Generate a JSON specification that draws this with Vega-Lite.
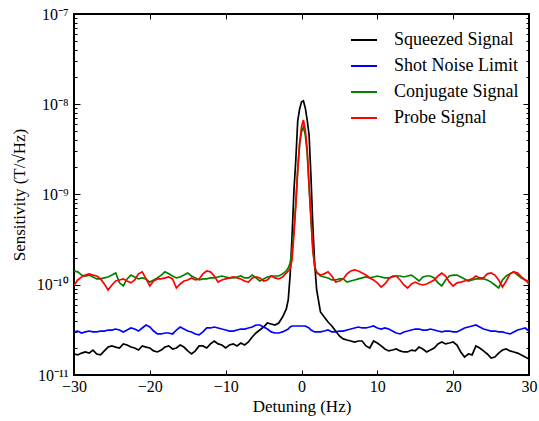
{
  "$schema": "https://vega.github.io/schema/vega-lite/v6.json",
  "width": 455,
  "height": 361,
  "autosize": {"type": "none"},
  "padding": {"left": 74, "top": 14, "right": 10, "bottom": 46},
  "background": "white",
  "config": {
    "view": {"stroke": "black", "strokeWidth": 2},
    "font": "Liberation Serif, Times New Roman, serif",
    "axis": {
      "grid": false, "domain": false, "tickColor": "black", "tickWidth": 1,
      "labelColor": "black", "labelFont": "Liberation Serif, Times New Roman, serif", "labelFontSize": 16,
      "titleFont": "Liberation Serif, Times New Roman, serif", "titleFontSize": 17, "titleFontWeight": "normal",
      "titleColor": "black", "labelFlush": false, "labelOverlap": false
    },
    "legend": {
      "orient": "none", "legendX": 276, "legendY": 12, "symbolType": "stroke",
      "symbolSize": 676, "symbolStrokeWidth": 2, "labelFont": "Liberation Serif, Times New Roman, serif",
      "labelFontSize": 18, "labelColor": "black", "labelOffset": 16, "rowPadding": 3, "padding": 0
    }
  },
  "data": {"values": [
    {"x": -30, "S": 1.71e-11, "B": 3.00e-11, "C": 1.42e-10, "P": 9.9e-11},
    {"x": -29.5, "S": 1.67e-11, "B": 3.07e-11, "C": 1.39e-10, "P": 1.13e-10},
    {"x": -29, "S": 1.75e-11, "B": 2.92e-11, "C": 1.28e-10, "P": 1.22e-10},
    {"x": -28.5, "S": 1.80e-11, "B": 3.00e-11, "C": 1.25e-10, "P": 1.28e-10},
    {"x": -28, "S": 1.75e-11, "B": 3.07e-11, "C": 1.28e-10, "P": 1.32e-10},
    {"x": -27.5, "S": 1.89e-11, "B": 3.00e-11, "C": 1.22e-10, "P": 1.28e-10},
    {"x": -27, "S": 1.71e-11, "B": 3.00e-11, "C": 1.16e-10, "P": 1.25e-10},
    {"x": -26.5, "S": 1.67e-11, "B": 3.07e-11, "C": 1.16e-10, "P": 1.16e-10},
    {"x": -26, "S": 1.85e-11, "B": 3.07e-11, "C": 1.19e-10, "P": 1.02e-10},
    {"x": -25.5, "S": 2.04e-11, "B": 3.15e-11, "C": 1.22e-10, "P": 8.75e-11},
    {"x": -25, "S": 2.10e-11, "B": 3.15e-11, "C": 1.28e-10, "P": 9.94e-11},
    {"x": -24.5, "S": 2.04e-11, "B": 3.23e-11, "C": 1.35e-10, "P": 1.10e-10},
    {"x": -24, "S": 1.99e-11, "B": 3.15e-11, "C": 1.05e-10, "P": 1.13e-10},
    {"x": -23.5, "S": 2.21e-11, "B": 3.00e-11, "C": 9.69e-11, "P": 1.16e-10},
    {"x": -23, "S": 2.15e-11, "B": 3.15e-11, "C": 1.16e-10, "P": 1.10e-10},
    {"x": -22.5, "S": 2.04e-11, "B": 3.32e-11, "C": 1.28e-10, "P": 1.05e-10},
    {"x": -22, "S": 1.99e-11, "B": 3.23e-11, "C": 1.22e-10, "P": 1.13e-10},
    {"x": -21.5, "S": 1.89e-11, "B": 3.07e-11, "C": 1.16e-10, "P": 1.32e-10},
    {"x": -21, "S": 2.10e-11, "B": 3.32e-11, "C": 1.19e-10, "P": 1.39e-10},
    {"x": -20.5, "S": 2.04e-11, "B": 3.58e-11, "C": 1.16e-10, "P": 1.16e-10},
    {"x": -20, "S": 1.99e-11, "B": 3.40e-11, "C": 1.07e-10, "P": 9.69e-11},
    {"x": -19.5, "S": 1.85e-11, "B": 3.07e-11, "C": 1.13e-10, "P": 1.10e-10},
    {"x": -19, "S": 1.80e-11, "B": 2.85e-11, "C": 1.19e-10, "P": 1.16e-10},
    {"x": -18.5, "S": 1.89e-11, "B": 2.85e-11, "C": 1.28e-10, "P": 1.16e-10},
    {"x": -18, "S": 2.04e-11, "B": 2.92e-11, "C": 1.39e-10, "P": 1.19e-10},
    {"x": -17.5, "S": 2.10e-11, "B": 2.92e-11, "C": 1.32e-10, "P": 1.22e-10},
    {"x": -17, "S": 1.94e-11, "B": 2.85e-11, "C": 1.25e-10, "P": 1.16e-10},
    {"x": -16.5, "S": 1.99e-11, "B": 3.15e-11, "C": 1.19e-10, "P": 9.20e-11},
    {"x": -16, "S": 2.15e-11, "B": 3.40e-11, "C": 1.22e-10, "P": 1.02e-10},
    {"x": -15.5, "S": 2.04e-11, "B": 3.23e-11, "C": 1.28e-10, "P": 1.10e-10},
    {"x": -15, "S": 1.85e-11, "B": 3.07e-11, "C": 1.35e-10, "P": 1.13e-10},
    {"x": -14.5, "S": 1.71e-11, "B": 3.00e-11, "C": 1.25e-10, "P": 1.19e-10},
    {"x": -14, "S": 1.85e-11, "B": 2.85e-11, "C": 1.19e-10, "P": 1.13e-10},
    {"x": -13.5, "S": 2.10e-11, "B": 2.78e-11, "C": 1.13e-10, "P": 1.16e-10},
    {"x": -13, "S": 2.10e-11, "B": 3.00e-11, "C": 1.16e-10, "P": 1.32e-10},
    {"x": -12.5, "S": 1.99e-11, "B": 3.32e-11, "C": 1.16e-10, "P": 1.42e-10},
    {"x": -12, "S": 2.21e-11, "B": 3.32e-11, "C": 1.19e-10, "P": 1.39e-10},
    {"x": -11.5, "S": 2.38e-11, "B": 3.40e-11, "C": 1.19e-10, "P": 1.25e-10},
    {"x": -11, "S": 2.21e-11, "B": 3.32e-11, "C": 1.22e-10, "P": 1.07e-10},
    {"x": -10.5, "S": 2.15e-11, "B": 3.23e-11, "C": 1.25e-10, "P": 1.13e-10},
    {"x": -10, "S": 1.99e-11, "B": 3.15e-11, "C": 1.22e-10, "P": 1.16e-10},
    {"x": -9.5, "S": 2.15e-11, "B": 3.07e-11, "C": 1.19e-10, "P": 1.19e-10},
    {"x": -9, "S": 2.21e-11, "B": 3.07e-11, "C": 1.19e-10, "P": 1.22e-10},
    {"x": -8.5, "S": 2.10e-11, "B": 3.15e-11, "C": 1.22e-10, "P": 1.19e-10},
    {"x": -8, "S": 2.26e-11, "B": 3.23e-11, "C": 1.25e-10, "P": 1.16e-10},
    {"x": -7.5, "S": 2.15e-11, "B": 3.23e-11, "C": 1.19e-10, "P": 1.10e-10},
    {"x": -7, "S": 2.32e-11, "B": 3.32e-11, "C": 1.19e-10, "P": 1.07e-10},
    {"x": -6.5, "S": 2.64e-11, "B": 3.40e-11, "C": 1.28e-10, "P": 1.19e-10},
    {"x": -6, "S": 2.92e-11, "B": 3.58e-11, "C": 1.19e-10, "P": 1.22e-10},
    {"x": -5.5, "S": 3.15e-11, "B": 3.58e-11, "C": 1.10e-10, "P": 1.19e-10},
    {"x": -5, "S": 3.40e-11, "B": 3.40e-11, "C": 1.16e-10, "P": 1.10e-10},
    {"x": -4.5, "S": 3.77e-11, "B": 3.23e-11, "C": 1.22e-10, "P": 1.13e-10},
    {"x": -4, "S": 3.67e-11, "B": 3.00e-11, "C": 1.25e-10, "P": 1.25e-10},
    {"x": -3.5, "S": 3.58e-11, "B": 2.92e-11, "C": 1.25e-10, "P": 1.19e-10},
    {"x": -3, "S": 3.77e-11, "B": 2.92e-11, "C": 1.25e-10, "P": 1.16e-10},
    {"x": -2.5, "S": 4.39e-11, "B": 3.00e-11, "C": 1.32e-10, "P": 1.22e-10},
    {"x": -2, "S": 5.39e-11, "B": 3.15e-11, "C": 1.42e-10, "P": 1.35e-10},
    {"x": -1.75, "S": 6.78e-11, "B": 3.23e-11, "C": 1.53e-10, "P": 1.42e-10},
    {"x": -1.5, "S": 1.28e-10, "B": 3.40e-11, "C": 1.74e-10, "P": 1.50e-10},
    {"x": -1.25, "S": 3.38e-10, "B": 3.49e-11, "C": 2.43e-10, "P": 1.88e-10},
    {"x": -1, "S": 1.09e-9, "B": 3.49e-11, "C": 4.04e-10, "P": 3.56e-10},
    {"x": -0.75, "S": 2.41e-9, "B": 3.49e-11, "C": 8.05e-10, "P": 7.65e-10},
    {"x": -0.5, "S": 6.52e-9, "B": 3.49e-11, "C": 1.87e-9, "P": 1.87e-9},
    {"x": -0.25, "S": 8.86e-9, "B": 3.49e-11, "C": 3.53e-9, "P": 3.72e-9},
    {"x": 0, "S": 1.06e-8, "B": 3.49e-11, "C": 4.93e-9, "P": 5.60e-9},
    {"x": 0.25, "S": 1.09e-8, "B": 3.49e-11, "C": 5.60e-9, "P": 6.69e-9},
    {"x": 0.5, "S": 9.09e-9, "B": 3.49e-11, "C": 4.56e-9, "P": 5.18e-9},
    {"x": 0.75, "S": 6.69e-9, "B": 3.40e-11, "C": 2.88e-9, "P": 3.19e-9},
    {"x": 1, "S": 4.56e-9, "B": 3.32e-11, "C": 1.21e-9, "P": 1.27e-9},
    {"x": 1.25, "S": 1.56e-9, "B": 3.15e-11, "C": 5.22e-10, "P": 5.63e-10},
    {"x": 1.5, "S": 4.36e-10, "B": 3.07e-11, "C": 2.43e-10, "P": 2.43e-10},
    {"x": 1.75, "S": 1.66e-10, "B": 3.00e-11, "C": 1.57e-10, "P": 1.57e-10},
    {"x": 2, "S": 8.75e-11, "B": 3.00e-11, "C": 1.39e-10, "P": 1.35e-10},
    {"x": 2.5, "S": 4.99e-11, "B": 3.00e-11, "C": 1.25e-10, "P": 1.28e-10},
    {"x": 3, "S": 4.39e-11, "B": 3.07e-11, "C": 1.22e-10, "P": 1.32e-10},
    {"x": 3.5, "S": 3.87e-11, "B": 3.15e-11, "C": 1.19e-10, "P": 1.39e-10},
    {"x": 4, "S": 3.49e-11, "B": 3.00e-11, "C": 1.13e-10, "P": 1.25e-10},
    {"x": 4.5, "S": 3.07e-11, "B": 3.00e-11, "C": 1.13e-10, "P": 1.07e-10},
    {"x": 5, "S": 2.71e-11, "B": 3.07e-11, "C": 1.16e-10, "P": 1.10e-10},
    {"x": 5.5, "S": 2.51e-11, "B": 3.07e-11, "C": 1.16e-10, "P": 1.16e-10},
    {"x": 6, "S": 2.44e-11, "B": 3.15e-11, "C": 1.07e-10, "P": 1.32e-10},
    {"x": 6.5, "S": 2.38e-11, "B": 3.23e-11, "C": 1.10e-10, "P": 1.42e-10},
    {"x": 7, "S": 2.32e-11, "B": 3.32e-11, "C": 1.13e-10, "P": 1.46e-10},
    {"x": 7.5, "S": 2.38e-11, "B": 3.40e-11, "C": 1.16e-10, "P": 1.42e-10},
    {"x": 8, "S": 2.38e-11, "B": 3.32e-11, "C": 1.19e-10, "P": 1.35e-10},
    {"x": 8.5, "S": 2.10e-11, "B": 3.32e-11, "C": 1.22e-10, "P": 1.28e-10},
    {"x": 9, "S": 1.99e-11, "B": 3.40e-11, "C": 1.19e-10, "P": 1.19e-10},
    {"x": 9.5, "S": 2.38e-11, "B": 3.49e-11, "C": 1.22e-10, "P": 1.13e-10},
    {"x": 10, "S": 2.26e-11, "B": 3.32e-11, "C": 1.25e-10, "P": 1.05e-10},
    {"x": 10.5, "S": 2.10e-11, "B": 3.23e-11, "C": 1.22e-10, "P": 9.44e-11},
    {"x": 11, "S": 1.94e-11, "B": 3.32e-11, "C": 1.19e-10, "P": 1.02e-10},
    {"x": 11.5, "S": 1.85e-11, "B": 3.23e-11, "C": 1.19e-10, "P": 1.16e-10},
    {"x": 12, "S": 1.89e-11, "B": 3.07e-11, "C": 1.22e-10, "P": 1.25e-10},
    {"x": 12.5, "S": 1.94e-11, "B": 2.92e-11, "C": 1.25e-10, "P": 1.25e-10},
    {"x": 13, "S": 1.85e-11, "B": 2.85e-11, "C": 1.25e-10, "P": 1.13e-10},
    {"x": 13.5, "S": 1.80e-11, "B": 3.00e-11, "C": 1.22e-10, "P": 9.94e-11},
    {"x": 14, "S": 1.80e-11, "B": 3.07e-11, "C": 1.25e-10, "P": 9.20e-11},
    {"x": 14.5, "S": 1.89e-11, "B": 3.15e-11, "C": 1.28e-10, "P": 1.02e-10},
    {"x": 15, "S": 1.85e-11, "B": 3.23e-11, "C": 1.19e-10, "P": 1.07e-10},
    {"x": 15.5, "S": 2.04e-11, "B": 3.23e-11, "C": 1.10e-10, "P": 1.02e-10},
    {"x": 16, "S": 1.94e-11, "B": 3.15e-11, "C": 1.22e-10, "P": 9.94e-11},
    {"x": 16.5, "S": 1.80e-11, "B": 3.15e-11, "C": 1.25e-10, "P": 1.02e-10},
    {"x": 17, "S": 1.89e-11, "B": 3.23e-11, "C": 1.25e-10, "P": 1.07e-10},
    {"x": 17.5, "S": 1.99e-11, "B": 3.15e-11, "C": 1.19e-10, "P": 1.13e-10},
    {"x": 18, "S": 2.21e-11, "B": 3.07e-11, "C": 1.05e-10, "P": 1.25e-10},
    {"x": 18.5, "S": 2.32e-11, "B": 3.00e-11, "C": 9.69e-11, "P": 1.35e-10},
    {"x": 19, "S": 2.21e-11, "B": 3.07e-11, "C": 1.13e-10, "P": 1.25e-10},
    {"x": 19.5, "S": 2.26e-11, "B": 3.07e-11, "C": 1.25e-10, "P": 1.07e-10},
    {"x": 20, "S": 2.32e-11, "B": 3.00e-11, "C": 1.28e-10, "P": 9.69e-11},
    {"x": 20.5, "S": 2.15e-11, "B": 3.00e-11, "C": 1.28e-10, "P": 1.05e-10},
    {"x": 21, "S": 1.80e-11, "B": 3.15e-11, "C": 1.22e-10, "P": 1.07e-10},
    {"x": 21.5, "S": 1.58e-11, "B": 3.32e-11, "C": 1.16e-10, "P": 1.10e-10},
    {"x": 22, "S": 1.71e-11, "B": 3.40e-11, "C": 1.10e-10, "P": 1.13e-10},
    {"x": 22.5, "S": 1.67e-11, "B": 3.49e-11, "C": 1.13e-10, "P": 1.16e-10},
    {"x": 23, "S": 2.10e-11, "B": 3.58e-11, "C": 1.16e-10, "P": 1.25e-10},
    {"x": 23.5, "S": 1.99e-11, "B": 3.40e-11, "C": 1.16e-10, "P": 1.19e-10},
    {"x": 24, "S": 1.85e-11, "B": 3.23e-11, "C": 1.16e-10, "P": 1.19e-10},
    {"x": 24.5, "S": 1.71e-11, "B": 3.15e-11, "C": 1.13e-10, "P": 1.32e-10},
    {"x": 25, "S": 1.54e-11, "B": 3.07e-11, "C": 1.07e-10, "P": 1.35e-10},
    {"x": 25.5, "S": 1.58e-11, "B": 3.07e-11, "C": 9.94e-11, "P": 1.28e-10},
    {"x": 26, "S": 1.75e-11, "B": 3.00e-11, "C": 9.20e-11, "P": 1.13e-10},
    {"x": 26.5, "S": 1.89e-11, "B": 3.00e-11, "C": 1.13e-10, "P": 9.44e-11},
    {"x": 27, "S": 1.94e-11, "B": 2.92e-11, "C": 1.25e-10, "P": 1.10e-10},
    {"x": 27.5, "S": 1.85e-11, "B": 2.85e-11, "C": 1.32e-10, "P": 1.32e-10},
    {"x": 28, "S": 1.80e-11, "B": 3.00e-11, "C": 1.39e-10, "P": 1.39e-10},
    {"x": 28.5, "S": 1.75e-11, "B": 3.15e-11, "C": 1.28e-10, "P": 1.35e-10},
    {"x": 29, "S": 1.67e-11, "B": 3.23e-11, "C": 1.19e-10, "P": 1.22e-10},
    {"x": 29.5, "S": 1.58e-11, "B": 3.32e-11, "C": 1.13e-10, "P": 1.13e-10},
    {"x": 30, "S": 1.50e-11, "B": 3.07e-11, "C": 1.10e-10, "P": 1.02e-10}
  ]},
  "transform": [{"fold": ["S", "B", "C", "P"], "as": ["series", "value"]}],
  "layer": [
    {
      "mark": {"type": "line", "strokeWidth": 1.7, "clip": true},
      "encoding": {
        "x": {"field": "x", "type": "quantitative", "scale": {"domain": [-30, 30], "nice": false, "zero": false},
              "axis": {"orient": "bottom", "values": [-30, -20, -10, 0, 10, 20, 30], "title": "Detuning (Hz)", "tickSize": -5, "labelPadding": 8, "titlePadding": 4}},
        "y": {"field": "value", "type": "quantitative", "scale": {"type": "log", "domain": [1e-11, 1e-7], "nice": false},
              "axis": {"orient": "left", "values": [1e-11, 1e-10, 1e-9, 1e-8, 1e-7], "title": "Sensitivity (T/√Hz)", "tickSize": -6, "labelPadding": 12, "titlePadding": 8,
                       "labelExpr": "'10' + {'-11': '⁻¹¹', '-10': '⁻¹⁰', '-9': '⁻⁹', '-8': '⁻⁸', '-7': '⁻⁷'}[round(log(datum.value) / LN10)]"}},
        "color": {"field": "series", "type": "nominal", "sort": null,
                  "scale": {"domain": ["S", "B", "C", "P"], "range": ["#000000", "#0000ff", "#008000", "#ff0000"]},
                  "legend": {"title": null, "labelExpr": "datum.label == 'S' ? 'Squeezed Signal' : datum.label == 'B' ? 'Shot Noise Limit' : datum.label == 'C' ? 'Conjugate Signal' : 'Probe Signal'"}}
      }
    },
    {
      "mark": {"type": "line", "strokeOpacity": 0},
      "encoding": {
        "x": {"field": "x", "type": "quantitative", "axis": {"orient": "top", "values": [-30, -20, -10, 0, 10, 20, 30], "labels": false, "title": null, "tickSize": -5}},
        "y": {"field": "value", "type": "quantitative", "axis": {"orient": "right", "values": [1e-11, 1e-10, 1e-9, 1e-8, 1e-7], "labels": false, "title": null, "tickSize": -6}},
        "detail": {"field": "series"}
      }
    },
    {
      "mark": {"type": "line", "strokeOpacity": 0},
      "encoding": {
        "x": {"field": "x", "type": "quantitative", "axis": null},
        "y": {"field": "value", "type": "quantitative", "axis": {"orient": "left", "labels": false, "title": null, "tickSize": -3,
              "values": [2e-11, 3e-11, 4e-11, 5e-11, 6e-11, 7e-11, 8e-11, 9e-11, 2e-10, 3e-10, 4e-10, 5e-10, 6e-10, 7e-10, 8e-10, 9e-10, 2e-9, 3e-9, 4e-9, 5e-9, 6e-9, 7e-9, 8e-9, 9e-9, 2e-8, 3e-8, 4e-8, 5e-8, 6e-8, 7e-8, 8e-8, 9e-8]}},
        "detail": {"field": "series"}
      }
    },
    {
      "mark": {"type": "line", "strokeOpacity": 0},
      "encoding": {
        "x": {"field": "x", "type": "quantitative", "axis": null},
        "y": {"field": "value", "type": "quantitative", "axis": {"orient": "right", "labels": false, "title": null, "tickSize": -3,
              "values": [2e-11, 3e-11, 4e-11, 5e-11, 6e-11, 7e-11, 8e-11, 9e-11, 2e-10, 3e-10, 4e-10, 5e-10, 6e-10, 7e-10, 8e-10, 9e-10, 2e-9, 3e-9, 4e-9, 5e-9, 6e-9, 7e-9, 8e-9, 9e-9, 2e-8, 3e-8, 4e-8, 5e-8, 6e-8, 7e-8, 8e-8, 9e-8]}},
        "detail": {"field": "series"}
      }
    }
  ],
  "resolve": {"axis": {"x": "independent", "y": "independent"}}
}
